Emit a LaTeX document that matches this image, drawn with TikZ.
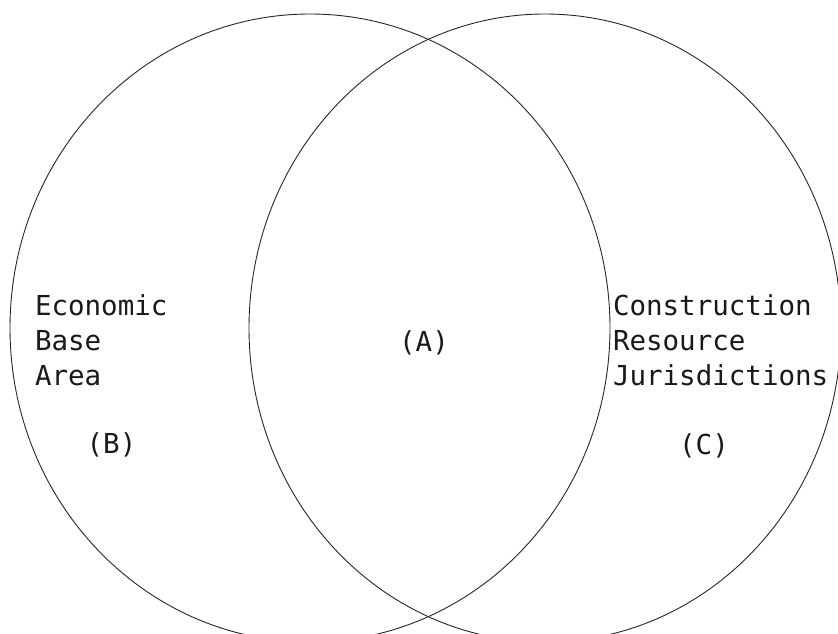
\documentclass[tikz,border=0pt]{standalone}
\usepackage{fontspec}
\newfontfamily\labelmono{DejaVu Sans Mono}
\begin{document}
\begin{tikzpicture}[x=1pt,y=-1pt,
  ring/.style={draw=black!85, line width=0.9pt},
  lbl/.style={inner sep=0pt, outer sep=0pt, font=\labelmono\fontsize{27.5}{35}\selectfont, text=black!90}]
\useasboundingbox (0,0) rectangle (838,633);
\coordinate (lc) at (310,328);
\coordinate (rc) at (545,328);
\draw[ring] (lc) ellipse [x radius=300, y radius=314];
\draw[ring] (rc) ellipse [x radius=296, y radius=314];
% left labels
\node[lbl, anchor=base west] (eco1) at (35,315) {Economic};
\node[lbl, anchor=base west] (eco2) at (35,350) {Base};
\node[lbl, anchor=base west] (eco3) at (35,385) {Area};
\node[lbl, anchor=base] (lb) at (111.5,453) {(B)};
% middle label
\node[lbl, anchor=base] (la) at (424,351) {(A)};
% right labels
\node[lbl, anchor=base west] (con1) at (613,315) {Construction};
\node[lbl, anchor=base west] (con2) at (613,350) {Resource};
\node[lbl, anchor=base west] (con3) at (613,385) {Jurisdictions};
\node[lbl, anchor=base] (lc2) at (704,454) {(C)};
\end{tikzpicture}
\end{document}
